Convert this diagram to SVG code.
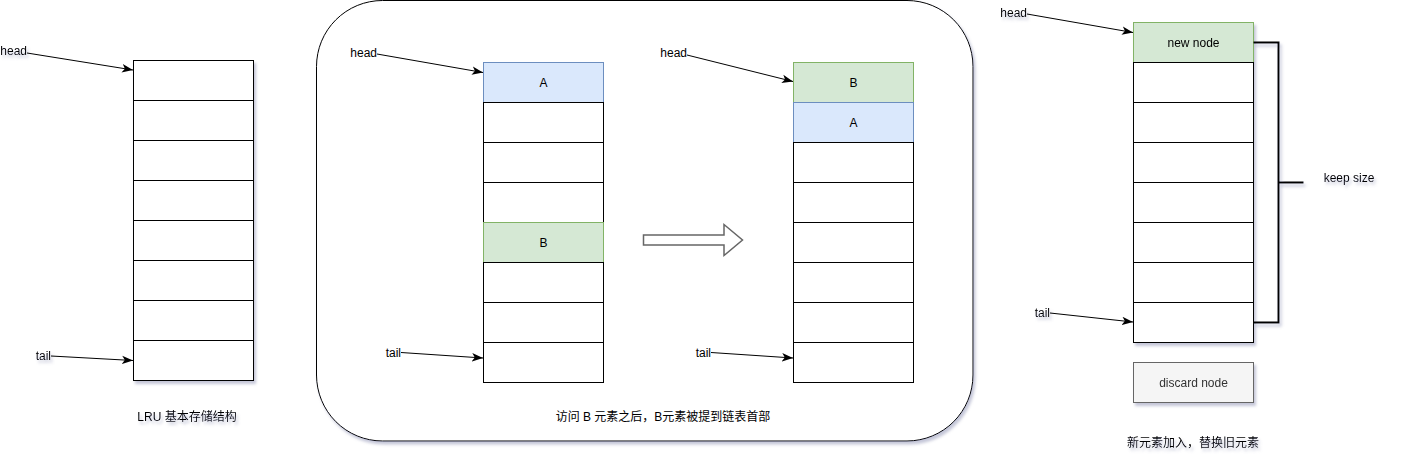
<svg xmlns="http://www.w3.org/2000/svg" width="1405" height="464" viewBox="0 0 1405 464">
<defs>
<filter id="sh" x="-20%" y="-20%" width="140%" height="140%">
<feDropShadow dx="2" dy="3" stdDeviation="1.5" flood-color="#7d80a8" flood-opacity="0.45"/>
</filter>
<marker id="arr" markerUnits="userSpaceOnUse" markerWidth="12" markerHeight="10" viewBox="0 0 12 10" refX="11" refY="5" orient="auto">
<path d="M0,0.8 L11,5 L0,9.2 L2.8,5 Z" fill="#000"/>
</marker>
</defs>
<style>
text{font-family:"Liberation Sans","Noto Sans CJK SC",sans-serif;font-size:12px;fill:#000}
.c{text-anchor:middle}
.cell{fill:#fff;stroke:#000;stroke-width:1}
.blue{fill:#dae8fc;stroke:#6c8ebf;stroke-width:1}
.green{fill:#d5e8d4;stroke:#82b366;stroke-width:1}
.ln{stroke:#000;stroke-width:1;fill:none;marker-end:url(#arr)}
</style>
<rect width="1405" height="464" fill="#fff"/>

<!-- container -->
<g id="container">
<rect x="316.5" y="0.5" width="656.5" height="440.5" rx="66" ry="66" fill="#fff" stroke="#000" stroke-width="1" filter="url(#sh)"/>
</g>

<!-- left stack -->
<g id="stack-basic" filter="url(#sh)">
<rect class="cell" x="133.5" y="60.5" width="120" height="40"/>
<rect class="cell" x="133.5" y="100.5" width="120" height="40"/>
<rect class="cell" x="133.5" y="140.5" width="120" height="40"/>
<rect class="cell" x="133.5" y="180.5" width="120" height="40"/>
<rect class="cell" x="133.5" y="220.5" width="120" height="40"/>
<rect class="cell" x="133.5" y="260.5" width="120" height="40"/>
<rect class="cell" x="133.5" y="300.5" width="120" height="40"/>
<rect class="cell" x="133.5" y="340.5" width="120" height="40"/>
</g>
<g id="labels-basic" filter="url(#sh)">
<text x="27" y="55" text-anchor="end">head</text>
<text x="51" y="360" text-anchor="end">tail</text>
<text class="c" x="187" y="421">LRU 基本存储结构</text>
</g>

<!-- middle-left stack -->
<g id="stack-before">
<rect class="blue" x="483.5" y="62.5" width="120" height="40"/>
<text class="c" x="543.5" y="86.5">A</text>
<rect class="cell" x="483.5" y="102.5" width="120" height="40"/>
<rect class="cell" x="483.5" y="142.5" width="120" height="40"/>
<rect class="cell" x="483.5" y="182.5" width="120" height="40"/>
<rect class="green" x="483.5" y="222.5" width="120" height="40"/>
<text class="c" x="543.5" y="246.5">B</text>
<rect class="cell" x="483.5" y="262.5" width="120" height="40"/>
<rect class="cell" x="483.5" y="302.5" width="120" height="40"/>
<rect class="cell" x="483.5" y="342.5" width="120" height="40"/>
<text x="377" y="57" text-anchor="end">head</text>
<text x="401" y="357" text-anchor="end">tail</text>
</g>

<!-- transition arrow -->
<g id="transition-arrow">
<path d="M643.5,235 L724,235 L724,224.5 L742.5,240 L724,255.5 L724,245 L643.5,245 Z" fill="#fff" stroke="#666" stroke-width="1.5" stroke-linejoin="miter"/>
</g>

<!-- middle-right stack -->
<g id="stack-after">
<rect class="green" x="793.5" y="62.5" width="120" height="40"/>
<text class="c" x="853.5" y="86.5">B</text>
<rect class="blue" x="793.5" y="102.5" width="120" height="40"/>
<text class="c" x="853.5" y="126.5">A</text>
<rect class="cell" x="793.5" y="142.5" width="120" height="40"/>
<rect class="cell" x="793.5" y="182.5" width="120" height="40"/>
<rect class="cell" x="793.5" y="222.5" width="120" height="40"/>
<rect class="cell" x="793.5" y="262.5" width="120" height="40"/>
<rect class="cell" x="793.5" y="302.5" width="120" height="40"/>
<rect class="cell" x="793.5" y="342.5" width="120" height="40"/>
<text x="687" y="57" text-anchor="end">head</text>
<text x="711" y="357" text-anchor="end">tail</text>
</g>
<g id="caption-move">
<text class="c" x="663" y="421">访问 B 元素之后，B元素被提到链表首部</text>
</g>

<!-- right stack -->
<g id="stack-insert" filter="url(#sh)">
<rect class="green" x="1133.5" y="22.5" width="120" height="40"/>
<text class="c" x="1193.5" y="46.5">new node</text>
<rect class="cell" x="1133.5" y="62.5" width="120" height="40"/>
<rect class="cell" x="1133.5" y="102.5" width="120" height="40"/>
<rect class="cell" x="1133.5" y="142.5" width="120" height="40"/>
<rect class="cell" x="1133.5" y="182.5" width="120" height="40"/>
<rect class="cell" x="1133.5" y="222.5" width="120" height="40"/>
<rect class="cell" x="1133.5" y="262.5" width="120" height="40"/>
<rect class="cell" x="1133.5" y="302.5" width="120" height="40"/>
</g>
<g id="discard-node" filter="url(#sh)">
<rect x="1133.5" y="362.5" width="120" height="40" fill="#f5f5f5" stroke="#666" stroke-width="1"/>
<text class="c" x="1193.5" y="386.5" style="fill:#333">discard node</text>
</g>
<g id="bracket" filter="url(#sh)">
<path d="M1253.5,42.5 L1278.5,42.5 L1278.5,322.5 L1253.5,322.5 M1278.5,182.5 L1303.5,182.5" fill="none" stroke="#000" stroke-width="2"/>
</g>
<g id="labels-insert" filter="url(#sh)">
<text x="1027" y="17" text-anchor="end">head</text>
<text x="1050" y="317" text-anchor="end">tail</text>
<text class="c" x="1349" y="182">keep size</text>
<text class="c" x="1193" y="447">新元素加入，替换旧元素</text>
</g>

<!-- connectors -->
<g id="connectors">
<line class="ln" x1="27" y1="53" x2="133" y2="70"/>
<line class="ln" x1="51" y1="356" x2="133" y2="360.5"/>
<line class="ln" x1="377" y1="54" x2="483" y2="72.5"/>
<line class="ln" x1="401" y1="352.5" x2="483" y2="358"/>
<line class="ln" x1="687" y1="55" x2="793" y2="81.5"/>
<line class="ln" x1="711" y1="352.5" x2="793" y2="358"/>
<line class="ln" x1="1027" y1="14" x2="1133" y2="32.5"/>
<line class="ln" x1="1050" y1="313" x2="1133" y2="322"/>
</g>
</svg>
